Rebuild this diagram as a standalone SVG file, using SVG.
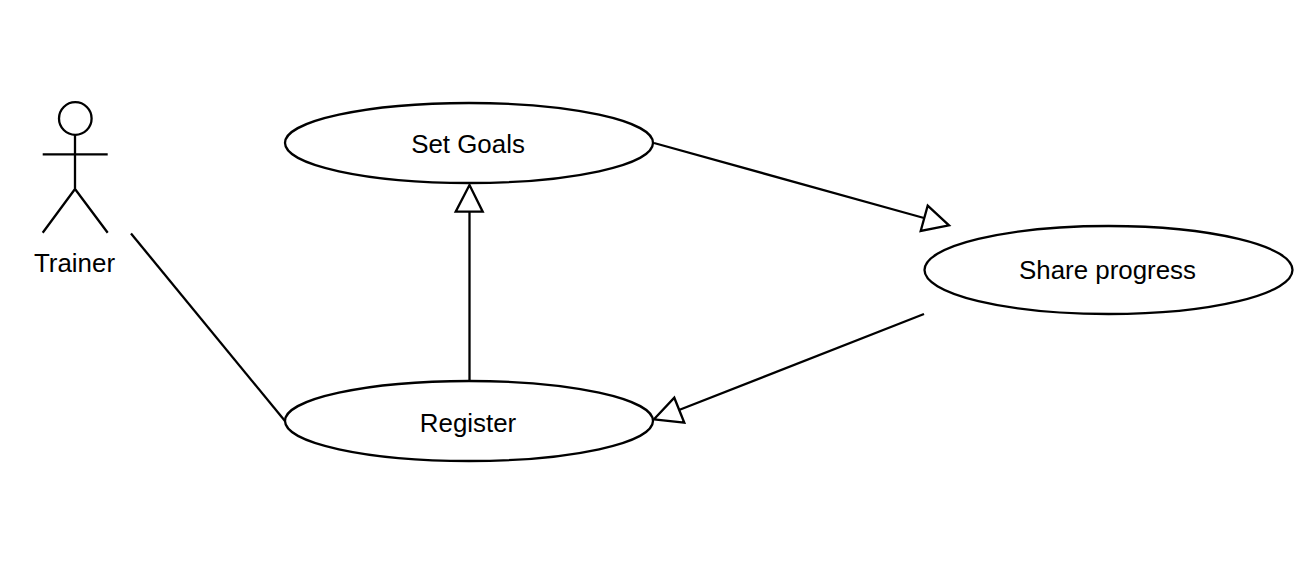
<svg xmlns="http://www.w3.org/2000/svg" width="1309" height="575" viewBox="0 0 1309 575">
<style>
.s{fill:none;stroke:#000;stroke-width:2.3}
.e{fill:#fff;stroke:#000;stroke-width:2.3}
.h{fill:#fff;stroke:#000;stroke-width:2.3;stroke-linejoin:miter}
text{font-family:"Liberation Sans",Arial,sans-serif;font-size:25.9px;fill:#000;text-anchor:middle}
</style>
<rect width="1309" height="575" fill="#fff"/>
<g id="connectors">
<path class="s" d="M131 233.500L285 421"/>
<path class="s" d="M654 143L924 218"/>
<polygon class="h" points="927.700,205.700 949,225.300 920.700,231"/>
<path class="s" d="M924 314L679 410"/>
<polygon class="h" points="654,419.300 674.300,397.700 684.300,422.700"/>
<path class="s" d="M469.500 381V211.700"/>
<polygon class="h" points="469.500,185 455.700,211.700 482.700,211.700"/>
</g>
<g id="actor-trainer">
<circle class="s" cx="75.300" cy="118.500" r="16.300"/>
<path class="s" d="M75 135V189M42.700 154.300H107.700M42.700 232.700L75 189L107.700 232.700"/>
<text x="74.500" y="272">Trainer</text>
</g>
<g id="usecase-set-goals">
<ellipse class="e" cx="469" cy="143" rx="184" ry="40"/>
<text x="468" y="153">Set Goals</text>
</g>
<g id="usecase-share-progress">
<ellipse class="e" cx="1108.500" cy="270" rx="184" ry="44"/>
<text x="1107.500" y="279">Share progress</text>
</g>
<g id="usecase-register">
<ellipse class="e" cx="469" cy="421" rx="184" ry="40"/>
<text x="468" y="432">Register</text>
</g>
</svg>
